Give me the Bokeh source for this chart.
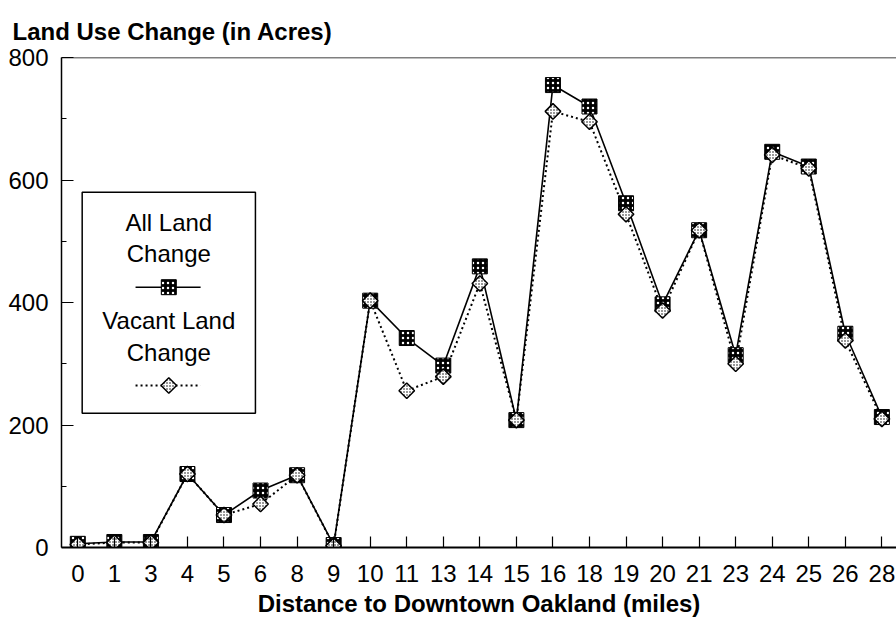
import numpy as np
from bokeh.plotting import figure
from bokeh.models import Range1d, FixedTicker, Span
from bokeh.core.properties import value
from bokeh.embed import file_html
from bokeh.resources import INLINE

# ---- data ----
miles = ["0", "1", "3", "4", "5", "6", "8", "9", "10", "11", "13", "14",
         "15", "16", "18", "19", "20", "21", "23", "24", "25", "26", "28"]
all_land = [6, 9, 9, 120, 53, 93, 118, 4, 403, 342, 297, 459,
            208, 755, 720, 562, 397, 518, 314, 646, 622, 349, 213]
vacant_land = [5, 8, 8, 120, 53, 71, 118, 3, 403, 256, 279, 431,
               208, 712, 695, 544, 387, 518, 300, 641, 619, 338, 210]
y_ticks = [0, 200, 400, 600, 800]
y_minor = [100, 300, 500, 700]
title_text = "Land Use Change (in Acres)"
x_title = "Distance to Downtown Oakland (miles)"
legend_labels = ["All Land", "Change", "Vacant Land", "Change"]

FONT = "Liberation Sans"
FS = "24px"

x = list(range(len(miles)))

p = figure(width=896, height=620,
           x_range=Range1d(-0.446, 22.40), y_range=Range1d(0, 800),
           output_backend="svg", toolbar_location=None,
           min_border_left=61, min_border_right=0,
           min_border_top=57, min_border_bottom=73)
p.background_fill_color = "white"
p.border_fill_color = "white"
p.outline_line_color = None
p.xgrid.visible = False
p.ygrid.visible = False

# title
p.title.text = title_text
p.title.text_font = FONT
p.title.text_font_size = FS
p.title.text_font_style = "bold"
p.title.align = "left"
p.title.offset = -49
p.title.standoff = 26
p.title.text_color = "black"

# x axis
xa = p.xaxis[0]
xa.ticker = FixedTicker(ticks=x)
xa.major_label_overrides = {i: m for i, m in enumerate(miles)}
xa.major_tick_in = 11
xa.major_tick_out = 0
xa.minor_tick_in = 0
xa.minor_tick_out = 0
xa.axis_line_width = 2
xa.major_tick_line_width = 1.2
xa.major_label_text_font = FONT
xa.major_label_text_font_size = FS
xa.major_label_text_color = "black"
xa.major_label_standoff = 17
xa.axis_label = x_title
xa.axis_label_text_font = FONT
xa.axis_label_text_font_size = FS
xa.axis_label_text_font_style = "bold"
xa.axis_label_text_color = "black"
xa.axis_label_standoff = 5

# y axis
ya = p.yaxis[0]
ya.ticker = FixedTicker(ticks=y_ticks, minor_ticks=y_minor)
ya.major_tick_in = 12
ya.major_tick_out = 0
ya.minor_tick_in = 5
ya.minor_tick_out = 0
ya.axis_line_width = 1.5
ya.major_tick_line_width = 1.2
ya.minor_tick_line_width = 1.2
ya.major_label_text_font = FONT
ya.major_label_text_font_size = FS
ya.major_label_text_color = "black"
ya.major_label_standoff = 13

# top frame line
p.add_layout(Span(location=800, dimension="width", line_color="black", line_width=1.5))

# series
p.line(x, vacant_land, line_color="black", line_width=2, line_dash="2 3")
p.line(x, all_land, line_color="black", line_width=1.6)
p.scatter(x, all_land, marker="square", size=15, fill_color="black", line_color="black",
          line_width=1, hatch_pattern="dot", hatch_color="white", hatch_scale=5, hatch_weight=1)
p.scatter(x, vacant_land, marker="square", angle=np.pi / 4, size=11, fill_color="white",
          line_color="black", line_width=1.5, hatch_pattern="dot", hatch_color="black",
          hatch_scale=3, hatch_weight=1)

# legend (drawn manually: label above, symbol below, centred)
LX0, LX1, LY0, LY1 = 0.12, 4.86, 219, 580
LCX = 2.49
p.quad(left=[LX0], right=[LX1], bottom=[LY0], top=[LY1], fill_color="white",
       line_color="black", line_width=1.5)
p.text(x=[LCX] * 4, y=[531, 480, 371, 319], text=legend_labels,
       text_font=value(FONT), text_font_size=FS, text_color="black",
       text_align="center", text_baseline="middle")
p.line([1.58, 3.36], [425, 425], line_color="black", line_width=1.6)
p.scatter([LCX], [425], marker="square", size=15, fill_color="black", line_color="black",
          hatch_pattern="dot", hatch_color="white", hatch_scale=5, hatch_weight=1)
p.line([1.58, 3.36], [264.5, 264.5], line_color="black", line_width=2, line_dash="2 3")
p.scatter([LCX], [264.5], marker="square", angle=np.pi / 4, size=11, fill_color="white",
          line_color="black", line_width=1.5, hatch_pattern="dot", hatch_color="black",
          hatch_scale=3, hatch_weight=1)

open("out.html", "w").write(file_html(p, INLINE))
